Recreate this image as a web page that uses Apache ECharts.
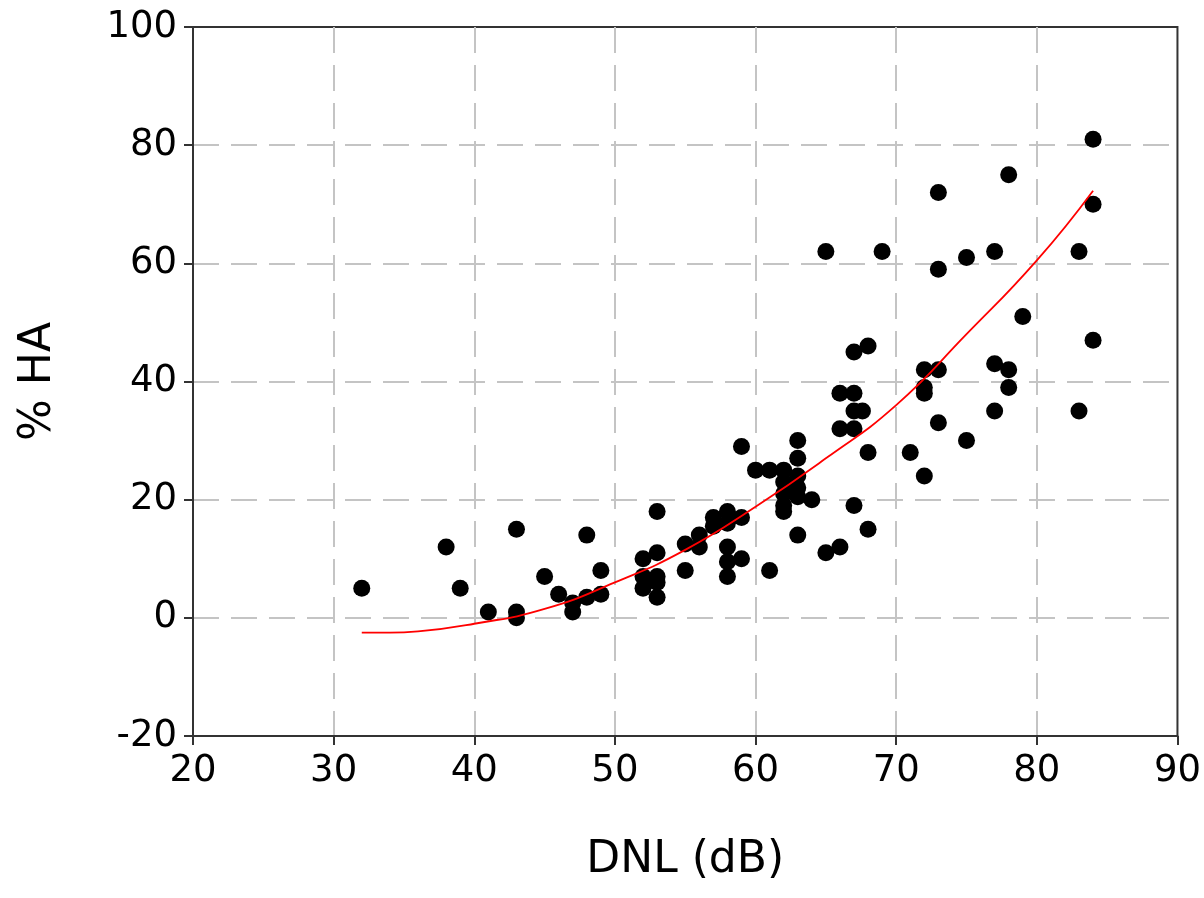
<!DOCTYPE html>
<html>
<head>
<meta charset="utf-8">
<script src="https://cdn.jsdelivr.net/npm/echarts@6/dist/echarts.min.js"></script>
<style>
html,body{margin:0;padding:0;background:#fff;}
#chart{width:1204px;height:898px;}
</style>
</head>
<body>
<div id="chart"></div>
<script>
// Observed survey points: [DNL (dB), % HA]
const surveyPoints = [
  [32,5],[38,12],[39,5],[41,1],[43,15],[43,1],[43,0],[45,7],[46,4],[47,2.5],[47,1],
  [48,14],[48,3.5],[49,8],[49,4],
  [52,10],[53,11],[52,7],[53,7],[52,5],[53,6],[53,3.5],[53,18],
  [55,12.5],[55,8],[56,14],[56,12],[57,17],[57,15.5],[58,18],[58,16],[58,12],[58,9.5],[58,7],
  [59,17],[59,10],[59,29],
  [60,25],[61,25],[61,8],[62,25],[62,23],[62,21],[62,19],[62,18],
  [63,30],[63,27],[63,24],[63,22],[63,20.5],[64,20],[63,14],[65,11],[66,12],[65,62],
  [66,38],[67,38],[67,45],[68,46],[66,32],[67,32],[67,35],[67.6,35],[68,28],[67,19],[68,15],
  [69,62],[71,28],[72,24],[72,42],[73,42],[72,39],[72,38],[73,33],[73,59],[73,72],
  [75,61],[75,30],[77,62],[77,43],[77,35],[78,42],[78,39],[78,75],[79,51],
  [83,62],[83,35],[84,81],[84,70],[84,47]
];
// Fitted curve
const fitCurve = [
  [32,-2.5],[34,-2.5],[36,-2.3],[40,-1],[45,1.5],[50,6],[55,11.5],[60,18.8],
  [65,27],[70,36],[75,48],[80,60.5],[84,72.3]
];
const xTicks = {min:20, max:90, step:10};
const yTicks = {min:-20, max:100, step:20};
const xTitle = 'DNL (dB)';
const yTitle = '% HA';

const FONT = '"DejaVu Sans", Verdana, sans-serif';
const chart = echarts.init(document.getElementById('chart'));
const gridLine = {show:true, showMinLine:false, showMaxLine:false,
  lineStyle:{color:'#c4c4c4', width:2, type:[26,12]}};
chart.setOption({
  backgroundColor:'#fff',
  animation:false,
  grid:{left:193, right:26, top:27, bottom:162, show:true, borderColor:'#333', borderWidth:2, backgroundColor:'transparent'},
  xAxis:{
    type:'value', min:xTicks.min, max:xTicks.max, interval:xTicks.step,
    name:xTitle, nameLocation:'middle', nameGap:103,
    nameTextStyle:{fontFamily:FONT, fontSize:44, color:'#000'},
    axisLine:{show:true, onZero:false, lineStyle:{color:'#333', width:2}},
    axisTick:{show:true, inside:false, length:9, lineStyle:{color:'#333', width:2}},
    axisLabel:{fontFamily:FONT, fontSize:37, color:'#000', margin:17},
    splitLine:gridLine
  },
  yAxis:{
    type:'value', min:yTicks.min, max:yTicks.max, interval:yTicks.step,
    name:yTitle, nameLocation:'middle', nameGap:132,
    nameTextStyle:{fontFamily:FONT, fontSize:44, color:'#000'},
    axisLine:{show:true, onZero:false, lineStyle:{color:'#333', width:2}},
    axisTick:{show:true, inside:false, length:9, lineStyle:{color:'#333', width:2}},
    axisLabel:{fontFamily:FONT, fontSize:37, color:'#000', margin:16},
    splitLine:gridLine
  },
  series:[
    {
      type:'scatter', data:surveyPoints, symbol:'circle', symbolSize:17,
      itemStyle:{color:'#000', opacity:1}, z:3
    },
    {
      type:'line', data:fitCurve, smooth:true, showSymbol:false, symbol:'none',
      lineStyle:{color:'#ff0000', width:1.8}, z:4
    }
  ]
});
</script>
</body>
</html>
